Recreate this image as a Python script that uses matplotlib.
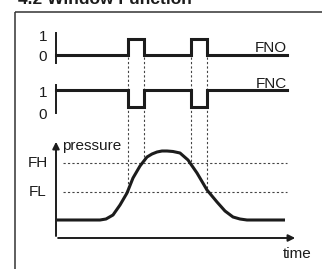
import matplotlib

matplotlib.use("Agg")

import matplotlib.pyplot as plt

plt.rcParams["font.family"] = ["Liberation Sans", "DejaVu Sans"]

# switching instants on the time axis (pressure crosses FL, FH, FH, FL)
t_switch = [128, 144, 191, 207]
t_start, t_end = 56, 287

# output states in the intervals between switch points
fno_states = [0, 1, 0, 1, 0]
fnc_states = [1, 0, 1, 0, 1]

# thresholds (pressure units above the time axis)
thresholds = {"FH": 75, "FL": 46}

# pressure trace
curve_t = [57, 100, 106, 113, 120, 127, 133, 140, 147, 152, 157, 162, 167, 173, 180, 188, 197, 207, 217, 225, 233, 240, 247, 285]
curve_p = [18, 18, 19, 23, 33, 45, 60, 72, 81, 84, 86, 87, 87, 86.5, 85, 78, 65, 48, 36, 27, 21, 19, 18, 18]

INK = "#1c1c1c"
P0 = 238  # pixel row of the time axis


def py(p):
    return P0 - p


def step_trace(states, y_low, amp):
    xs, ys = [t_start], [y_low - amp * states[0]]
    for i, t in enumerate(t_switch):
        xs += [t, t]
        ys += [y_low - amp * states[i], y_low - amp * states[i + 1]]
    xs.append(t_end)
    ys.append(y_low - amp * states[-1])
    return xs, ys


fig = plt.figure(figsize=(3.22, 2.69), dpi=100)
ax = fig.add_axes([0, 0, 1, 1])
ax.set_xlim(0, 322)
ax.set_ylim(269, 0)
ax.axis("off")

# frame and clipped heading
ax.plot([15, 323], [11.5, 11.5], color="#333333", lw=1.1, solid_capstyle="butt")
ax.plot([15, 15], [11.5, 270], color="#333333", lw=1.1, solid_capstyle="butt")
ax.text(18, 4, "4.2 Window Function", fontsize=12.5, fontweight="bold", color=INK, va="baseline")

# dotted guides from the switching outputs down to the thresholds
levels = [thresholds["FL"], thresholds["FH"], thresholds["FH"], thresholds["FL"]]
for t, lev in zip(t_switch, levels):
    ax.plot([t, t], [57, py(lev)], color="#444444", lw=0.8, ls=(0, (2, 2)))
for name, lev in thresholds.items():
    ax.plot([63, t_end], [py(lev), py(lev)], color="#444444", lw=0.8, ls=(0, (2, 2)))
    ax.text(38, py(lev), name, fontsize=11, color=INK, ha="center", va="center")

# switching outputs
for states, y_low, amp, label, ybar in [
    (fno_states, 55, 16, "FNO", (33, 63)),
    (fnc_states, 107, 17, "FNC", (85, 113)),
]:
    xs, ys = step_trace(states, y_low, amp)
    ax.plot(xs, ys, color=INK, lw=2.2, solid_joinstyle="miter")
    ax.plot([56, 56], ybar, color=INK, lw=1.4)
    top = y_low - amp * states[-1]
    ax.text(t_end, top - 2.5, label, fontsize=11, color=INK, ha="right", va="baseline")
for y, s in [(37, "1"), (57, "0"), (93, "1"), (115, "0")]:
    ax.text(43, y, s, fontsize=11, color=INK, ha="center", va="center")

# pressure / time axes
ax.annotate("", xy=(56, 139), xytext=(56, P0 + 0.8),
            arrowprops=dict(arrowstyle="-|>", color=INK, lw=1.4, mutation_scale=10))
ax.annotate("", xy=(298, P0), xytext=(55.3, P0),
            arrowprops=dict(arrowstyle="-|>", color=INK, lw=1.4, mutation_scale=10))
ax.text(62, 146, "pressure", fontsize=11, color=INK, ha="left", va="center")
ax.text(312, 254, "time", fontsize=11, color=INK, ha="right", va="center")

# pressure trace
ax.plot(curve_t, [py(p) for p in curve_p], color=INK, lw=2.2,
        solid_joinstyle="round", solid_capstyle="butt")

fig.savefig("out.png", dpi=100)
